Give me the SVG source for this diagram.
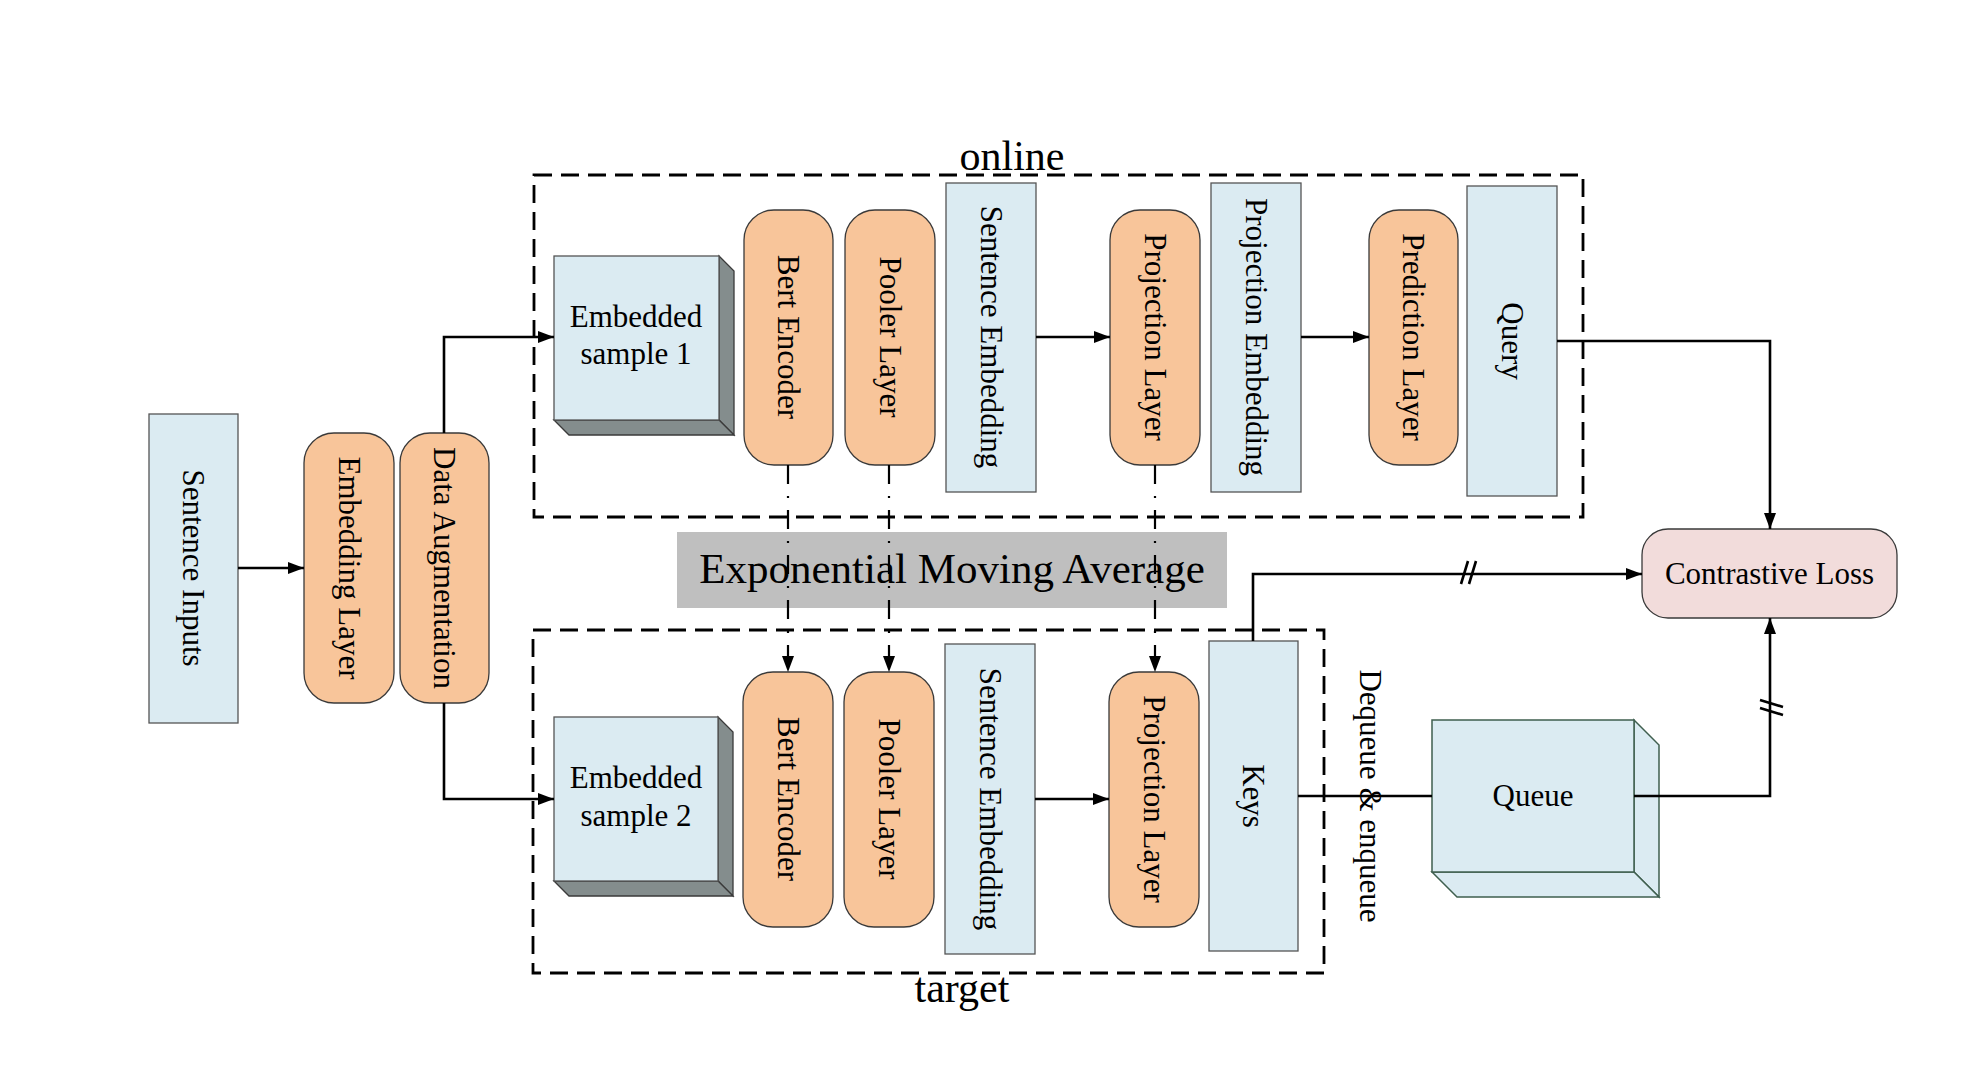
<svg xmlns="http://www.w3.org/2000/svg" width="1978" height="1078" viewBox="0 0 1978 1078">
<style>
text{font-family:"Liberation Serif","Times New Roman",serif;fill:#000;}
.t{font-size:31px;}
.big{font-size:42px;}
.blue{fill:#dbebf2;stroke:#555;stroke-width:1.3;}
.orange{fill:#f8c59a;stroke:#3a3a3a;stroke-width:1.3;}
.side{fill:#848d8d;stroke:#3a3a3a;stroke-width:1.3;}
.qface{fill:#dbebf2;stroke:#3f5f4f;stroke-width:1.5;}
.dbox{fill:none;stroke:#000;stroke-width:2.8;stroke-dasharray:18 9;}
.ln{fill:none;stroke:#000;stroke-width:2.6;}
.ema{fill:none;stroke:#000;stroke-width:2.2;stroke-dasharray:19 12 2 12;}
</style>
<defs>
<marker id="ah" viewBox="0 0 16 12" refX="16" refY="6" markerWidth="16" markerHeight="12" markerUnits="userSpaceOnUse" orient="auto">
<path d="M0,0 L16,6 L0,12 Z" fill="#000"/>
</marker>
</defs>
<rect width="1978" height="1078" fill="#fff"/>

<g id="ema-band">
<rect x="677" y="532" width="550" height="76" fill="#bfbfbf"/>
<text x="952" y="583" text-anchor="middle" style="font-size:43px">Exponential Moving Average</text>
</g>

<g id="online-group">
<rect class="dbox" x="534" y="175" width="1049" height="342"/>
<text class="big" x="1012" y="170" text-anchor="middle">online</text>
</g>
<g id="target-group">
<rect class="dbox" x="533" y="630" width="791" height="343"/>
<text class="big" x="962" y="1002" text-anchor="middle">target</text>
</g>

<g id="sentence-inputs">
<rect class="blue" x="149" y="414" width="89" height="309"/>
<text class="t" transform="translate(193.5,568) rotate(90)" text-anchor="middle" dominant-baseline="central">Sentence Inputs</text>
</g>
<g id="embedding-layer">
<rect class="orange" x="304" y="433" width="90" height="270" rx="30"/>
<text class="t" transform="translate(349,568) rotate(90)" text-anchor="middle" dominant-baseline="central">Embedding Layer</text>
</g>
<g id="data-augmentation">
<rect class="orange" x="400" y="433" width="89" height="270" rx="30"/>
<text class="t" transform="translate(444.5,568) rotate(90)" text-anchor="middle" dominant-baseline="central">Data Augmentation</text>
</g>

<g id="embedded-sample-1">
<path class="side" d="M719,256 L734,271 L734,435 L719,420 Z"/>
<path class="side" d="M554,420 L569,435 L734,435 L719,420 Z"/>
<rect class="blue" x="554" y="256" width="165" height="164"/>
<text class="t" x="636" y="327" text-anchor="middle">Embedded</text>
<text class="t" x="636" y="364" text-anchor="middle">sample 1</text>
</g>
<g id="bert-encoder-online">
<rect class="orange" x="744" y="210" width="89" height="255" rx="30"/>
<text class="t" transform="translate(788.5,337) rotate(90)" text-anchor="middle" dominant-baseline="central">Bert Encoder</text>
</g>
<g id="pooler-layer-online">
<rect class="orange" x="845" y="210" width="90" height="255" rx="30"/>
<text class="t" transform="translate(890,337) rotate(90)" text-anchor="middle" dominant-baseline="central">Pooler Layer</text>
</g>
<g id="sentence-embedding-online">
<rect class="blue" x="946" y="183" width="90" height="309"/>
<text class="t" transform="translate(991,337) rotate(90)" text-anchor="middle" dominant-baseline="central">Sentence Embedding</text>
</g>
<g id="projection-layer-online">
<rect class="orange" x="1110" y="210" width="90" height="255" rx="30"/>
<text class="t" transform="translate(1155,337) rotate(90)" text-anchor="middle" dominant-baseline="central">Projection Layer</text>
</g>
<g id="projection-embedding">
<rect class="blue" x="1211" y="183" width="90" height="309"/>
<text class="t" transform="translate(1256,337) rotate(90)" text-anchor="middle" dominant-baseline="central">Projection Embedding</text>
</g>
<g id="prediction-layer">
<rect class="orange" x="1369" y="210" width="89" height="255" rx="30"/>
<text class="t" transform="translate(1413.5,337) rotate(90)" text-anchor="middle" dominant-baseline="central">Prediction Layer</text>
</g>
<g id="query">
<rect class="blue" x="1467" y="186" width="90" height="310"/>
<text class="t" transform="translate(1512,341) rotate(90)" text-anchor="middle" dominant-baseline="central">Query</text>
</g>

<g id="embedded-sample-2">
<path class="side" d="M718,717 L733,732 L733,896 L718,881 Z"/>
<path class="side" d="M554,881 L569,896 L733,896 L718,881 Z"/>
<rect class="blue" x="554" y="717" width="164" height="164"/>
<text class="t" x="636" y="788" text-anchor="middle">Embedded</text>
<text class="t" x="636" y="826" text-anchor="middle">sample 2</text>
</g>
<g id="bert-encoder-target">
<rect class="orange" x="743" y="672" width="90" height="255" rx="30"/>
<text class="t" transform="translate(788,799) rotate(90)" text-anchor="middle" dominant-baseline="central">Bert Encoder</text>
</g>
<g id="pooler-layer-target">
<rect class="orange" x="844" y="672" width="90" height="255" rx="30"/>
<text class="t" transform="translate(889,799) rotate(90)" text-anchor="middle" dominant-baseline="central">Pooler Layer</text>
</g>
<g id="sentence-embedding-target">
<rect class="blue" x="945" y="644" width="90" height="310"/>
<text class="t" transform="translate(990,799) rotate(90)" text-anchor="middle" dominant-baseline="central">Sentence Embedding</text>
</g>
<g id="projection-layer-target">
<rect class="orange" x="1109" y="672" width="90" height="255" rx="30"/>
<text class="t" transform="translate(1154,799) rotate(90)" text-anchor="middle" dominant-baseline="central">Projection Layer</text>
</g>
<g id="keys">
<rect class="blue" x="1209" y="641" width="89" height="310"/>
<text class="t" transform="translate(1253.5,796) rotate(90)" text-anchor="middle" dominant-baseline="central">Keys</text>
</g>

<g id="queue">
<path class="qface" d="M1634,720 L1659,745 L1659,897 L1634,872 Z"/>
<path class="qface" d="M1432,872 L1457,897 L1659,897 L1634,872 Z"/>
<rect class="qface" x="1432" y="720" width="202" height="152"/>
<text class="t" x="1533" y="806" text-anchor="middle">Queue</text>
</g>

<g id="contrastive-loss">
<rect x="1642" y="529" width="255" height="89" rx="26" fill="#f2dcdb" stroke="#3a3a3a" stroke-width="1.3"/>
<text class="t" x="1769.5" y="584" text-anchor="middle">Contrastive Loss</text>
</g>

<text class="t" transform="translate(1370,796) rotate(90)" text-anchor="middle" dominant-baseline="central">Dequeue &amp; enqueue</text>

<g id="connectors">
<path class="ln" d="M238,568 L304,568" marker-end="url(#ah)"/>
<path class="ln" d="M444,433 L444,337 L554,337" marker-end="url(#ah)"/>
<path class="ln" d="M444,703 L444,799 L554,799" marker-end="url(#ah)"/>
<path class="ln" d="M1036,337 L1110,337" marker-end="url(#ah)"/>
<path class="ln" d="M1301,337 L1369,337" marker-end="url(#ah)"/>
<path class="ln" d="M1035,799 L1109,799" marker-end="url(#ah)"/>
<path class="ln" d="M1557,341 L1770,341 L1770,529" marker-end="url(#ah)"/>
<path class="ln" d="M1253,641 L1253,574 L1642,574" marker-end="url(#ah)"/>
<path class="ln" d="M1298,796 L1432,796"/>
<path class="ln" d="M1634,796 L1770,796 L1770,618" marker-end="url(#ah)"/>
<path class="ln" d="M1461,584 L1468,561 M1469,584 L1476,561"/>
<path class="ln" d="M1760,700 L1783,707 M1760,708 L1783,715"/>
<path class="ema" d="M788,465 L788,672" marker-end="url(#ah)"/>
<path class="ema" d="M889,465 L889,672" marker-end="url(#ah)"/>
<path class="ema" d="M1155,465 L1155,672" marker-end="url(#ah)"/>
</g>
</svg>
